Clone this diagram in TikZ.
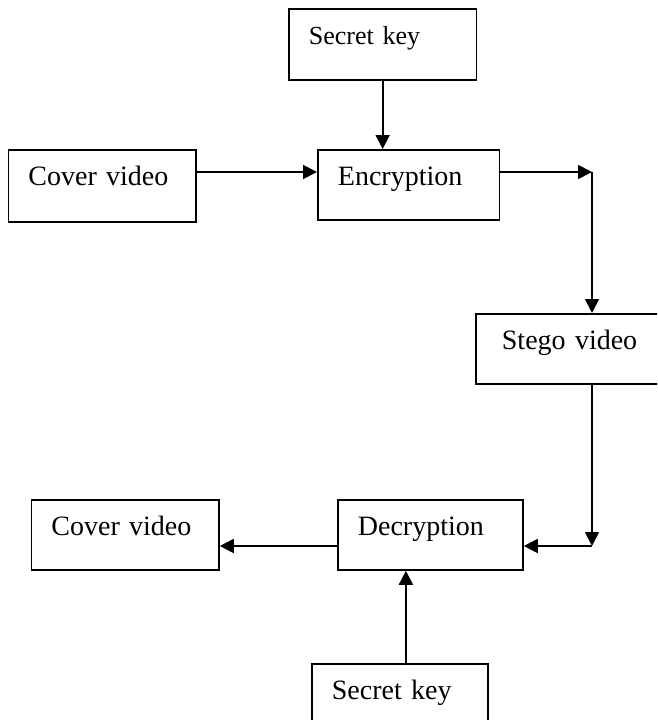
\documentclass[tikz,border=0pt]{standalone}
\usepackage{fontspec}
\setmainfont{Liberation Serif}
\usetikzlibrary{arrows.meta, positioning}
\tikzset{> = { Triangle[length = 14pt, width = 14pt] }}

\begin{document}
\begin{tikzpicture}[x = 1pt, y = -1pt, ->, line width = 1.8pt,
		box/.style = { draw, anchor = north west, align = left, inner xsep = 20pt, inner ysep = 0pt, text height = 36pt, font = \fontsize{28}{34}\selectfont }]
		\useasboundingbox (0, 0) rectangle (657, 720);
		\clip (0, 0) rectangle (657, 720);

		% encoding side
		\node [box, text width = 147.5pt, text depth = 35pt, font = \fontsize{26}{31}\selectfont] (keyE) at (288, 8) {Secret key};
		\node [box, text width = 147.5pt, text depth = 36pt] (coverE) at (7.5, 149) {Cover video};
		\node [box, text width = 141.5pt, text depth = 34pt] (enc) at (317, 149) {Encryption};
		\node [box, text width = 148pt, text depth = 34pt, inner xsep = 26pt] (stego) at (475, 313) {Stego video};

		% decoding side
		\node [box, text width = 147.5pt, text depth = 34pt] (coverD) at (30.5, 499) {Cover video};
		\node [box, text width = 145pt, text depth = 34pt] (dec) at (337, 499) {Decryption};
		\node [box, text width = 136pt, text depth = 39pt] (keyD) at (311, 663) {Secret key};

		\coordinate (turnE) at (592, 172);
		\coordinate (turnD) at (592, 546);

		\draw (keyE.south) -- (keyE.south |- enc.north);
		\draw (coverE.east |- turnE) -- (enc.west |- turnE);
		\draw (enc.east |- turnE) -- (turnE);
		\draw (turnE) -- (turnE |- stego.north);

		\draw (turnE |- stego.south) -- (turnD);
		\draw (turnD) -- (dec.east |- turnD);
		\draw (dec.west |- turnD) -- (coverD.east |- turnD);
		\draw ([xshift = 6pt] keyD.north) -- ([xshift = 6pt] keyD.north |- dec.south);
	\end{tikzpicture}
\end{document}
